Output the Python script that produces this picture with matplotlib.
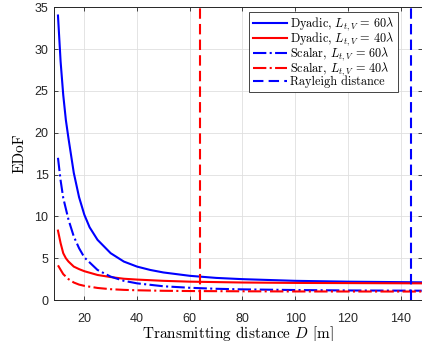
import matplotlib
matplotlib.use('Agg')
import matplotlib.pyplot as plt

plt.rcParams['mathtext.fontset'] = 'cm'
plt.rcParams['font.family'] = ['Liberation Sans', 'DejaVu Sans']
plt.rcParams['axes.unicode_minus'] = False

# Dyadic, L = 60 lambda
d_dy60 = [10, 11, 12, 13, 14, 16, 18, 20, 22, 25, 30, 35, 40, 45, 50, 60, 70,
          80, 100, 120, 148]
e_dy60 = [34.0, 28.5, 24.5, 21.5, 19.3, 15.2, 12.3, 10.2, 8.7, 7.2, 5.6, 4.6,
          4.0, 3.6, 3.3, 2.9, 2.65, 2.5, 2.3, 2.2, 2.12]

# Dyadic, L = 40 lambda
d_dy40 = [10, 11, 12, 13, 14, 16, 18, 20, 25, 30, 35, 40, 50, 60, 80, 100, 148]
e_dy40 = [8.3, 6.8, 5.6, 5.0, 4.6, 4.0, 3.7, 3.45, 3.0, 2.75, 2.55, 2.45,
          2.3, 2.2, 2.1, 2.05, 2.0]

# Scalar, L = 60 lambda
d_sc60 = [10, 11, 12, 14, 16, 18, 20, 25, 30, 35, 40, 50, 60, 70, 80, 100,
          120, 148]
e_sc60 = [17.0, 14.3, 12.2, 9.6, 7.6, 6.2, 5.1, 3.6, 2.8, 2.3, 2.0, 1.65,
          1.47, 1.35, 1.28, 1.2, 1.15, 1.12]

# Scalar, L = 40 lambda
d_sc40 = [10, 12, 14, 16, 18, 20, 25, 30, 35, 40, 50, 60, 80, 100, 148]
e_sc40 = [4.15, 3.1, 2.5, 2.1, 1.85, 1.7, 1.45, 1.3, 1.22, 1.17, 1.11, 1.08,
          1.05, 1.03, 1.02]

# Rayleigh distances [m]
rayleigh_40 = 64
rayleigh_60 = 144

fig = plt.figure(figsize=(4.22, 3.41), dpi=100)
ax = fig.add_axes([0.128, 0.12, 0.872, 0.859])

lw = 1.5
dash = (0, (5, 2.5))
ax.plot(d_dy60, e_dy60, color='#0000ff', lw=lw,
        label=r'Dyadic, $L_{t,V} \,=\, 60\lambda$')
ax.plot(d_dy40, e_dy40, color='#ff0000', lw=lw,
        label=r'Dyadic, $L_{t,V} \,=\, 40\lambda$')
ax.plot(d_sc60, e_sc60, color='#0000ff', lw=lw, ls='-.',
        label=r'Scalar, $L_{t,V} \,=\, 60\lambda$')
ax.plot(d_sc40, e_sc40, color='#ff0000', lw=lw, ls='-.',
        label=r'Scalar, $L_{t,V} \,=\, 40\lambda$')
ax.axvline(rayleigh_40, color='#ff0000', lw=lw, ls=dash)
ax.axvline(rayleigh_60, color='#0000ff', lw=lw, ls=dash,
           label='Rayleigh distance')

ax.set_xlim(8.5, 148.1)
ax.set_ylim(0, 35)
ax.set_xticks(range(20, 141, 20))
ax.set_yticks(range(0, 36, 5))
ax.grid(True, color='#dfdfdf', lw=0.6)
ax.set_axisbelow(True)
ax.tick_params(direction='in', length=3, width=0.6, colors='#262626',
               labelsize=9, top=True, right=True)
ax.tick_params(axis='x', pad=9)
ax.tick_params(axis='y', pad=4)
for s in ax.spines.values():
    s.set_color('#262626')
    s.set_linewidth(0.7)

ax.set_xlabel(r'Transmitting distance $D$ [m]', family='cmr10',
              fontsize=11, labelpad=-0.5)
ax.set_ylabel('EDoF', family='cmr10', fontsize=11, labelpad=6)

leg = ax.legend(loc='upper right', bbox_to_anchor=(0.935, 0.985),
                prop={'family': 'cmr10', 'size': 8.8},
                handlelength=2.75, handletextpad=0.3,
                borderpad=0.3, labelspacing=-0.2, borderaxespad=0,
                fancybox=False, framealpha=1, edgecolor='#262626')
leg.get_frame().set_linewidth(0.6)

fig.savefig('out.png', dpi=100)
